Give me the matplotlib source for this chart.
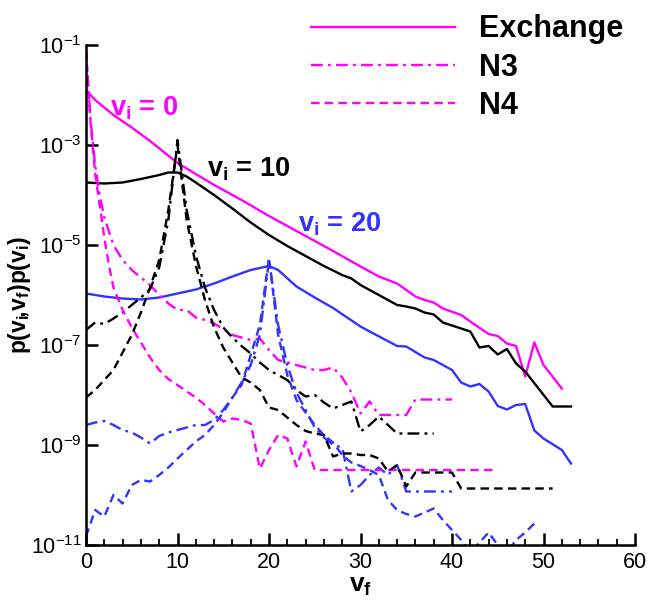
import matplotlib
matplotlib.use("Agg")
import matplotlib.pyplot as plt
import numpy as np
from matplotlib.ticker import MultipleLocator, NullLocator

plt.rcParams['font.family'] = 'Liberation Sans'
plt.rcParams['mathtext.fontset'] = 'custom'
plt.rcParams['mathtext.rm'] = 'Liberation Sans'
plt.rcParams['mathtext.it'] = 'Liberation Sans:italic'
plt.rcParams['mathtext.bf'] = 'Liberation Sans:bold'
plt.rcParams['mathtext.default'] = 'regular'

# values, stored as log10(p)
# exchange model, v_i = 0 / 10 / 20
ex0_v = [0, 1, 2, 3, 5, 7, 10, 12, 14, 17, 20, 22, 24, 25, 27, 30, 32, 34, 36, 37, 38, 39,
         41, 42, 44, 45, 46, 47, 48, 49, 50, 52]
ex0_lg = [-1.9, -2.1, -2.25, -2.4, -2.65, -2.92, -3.36, -3.58, -3.8, -4.1, -4.42, -4.62, -4.82,
          -4.92, -5.12, -5.43, -5.63, -5.77, -6.03, -6.1, -6.15, -6.27, -6.4, -6.53, -6.78,
          -6.82, -6.97, -7.02, -7.63, -6.95, -7.4, -7.87]

ex10_v = [0, 2, 4, 6, 8, 9, 10, 11, 12, 14, 16, 18, 20, 22, 24, 26, 28, 29, 30, 32, 34, 35, 36,
          37, 38, 39, 40, 41, 42, 43, 44, 45, 46, 47, 48, 51, 53]
ex10_lg = [-3.75, -3.77, -3.75, -3.68, -3.6, -3.55, -3.55, -3.63, -3.75, -4.0, -4.27, -4.55,
           -4.8, -5.02, -5.22, -5.42, -5.6, -5.67, -5.8, -6.0, -6.2, -6.23, -6.27, -6.35, -6.39,
           -6.55, -6.61, -6.67, -6.73, -7.05, -7.02, -7.19, -7.08, -7.37, -7.53, -8.23, -8.23]

ex20_v = [0, 2, 4, 6, 8, 10, 12, 14, 16, 18, 20, 21, 23, 25, 27, 30, 31, 34, 35, 37, 38, 40, 41,
          42, 43, 44, 45, 46, 47, 48, 49, 50, 52, 53]
ex20_lg = [-5.97, -6.03, -6.07, -6.09, -6.05, -5.97, -5.89, -5.77, -5.63, -5.5, -5.42, -5.5,
           -5.83, -6.05, -6.26, -6.63, -6.73, -7.02, -7.03, -7.25, -7.3, -7.5, -7.75, -7.83,
           -7.78, -7.93, -8.22, -8.29, -8.2, -8.18, -8.71, -8.87, -9.1, -9.37]

# N3 model
n3_0_v = [0, 0.5, 1, 1.5, 2, 3, 4, 5, 6, 7, 8, 9, 10, 11, 12, 13, 14, 15, 16, 17, 18, 19, 20,
          21, 22, 23, 24, 25, 26, 27, 28, 29, 30, 31, 32, 33, 34, 35, 36, 40]
n3_0_lg = [-1.1, -2.5, -3.4, -4.0, -4.45, -5.0, -5.3, -5.5, -5.65, -5.8, -6.0, -6.17, -6.3,
           -6.3, -6.45, -6.5, -6.57, -6.68, -6.8, -6.85, -6.9, -6.87, -7.1, -7.3, -7.35, -7.4,
           -7.45, -7.5, -7.5, -7.45, -7.65, -7.95, -8.37, -8.13, -8.4, -8.4, -8.4, -8.4, -8.09,
           -8.09]

n3_10_v = list(range(0, 35)) + [38]
n3_10_lg = [-6.7, -6.55, -6.58, -6.47, -6.35, -6.2, -6.05, -5.88, -5.45, -4.5, -2.9, -4.3,
            -5.2, -5.85, -6.3, -6.65, -6.85, -7.02, -7.17, -7.35, -7.5, -7.6, -7.7, -7.9, -8.03,
            -8.0, -8.15, -8.27, -8.2, -8.13, -8.73, -8.6, -8.43, -8.6, -8.77, -8.77]

n3_20_v = list(range(0, 36)) + [40]
n3_20_lg = [-8.6, -8.55, -8.52, -8.6, -8.7, -8.75, -8.85, -8.97, -8.82, -8.75, -8.7, -8.65,
            -8.6, -8.6, -8.5, -8.3, -8.05, -7.75, -7.4, -6.8, -5.3, -6.6, -7.4, -7.95, -8.3,
            -8.65, -8.85, -9.0, -9.05, -9.93, -9.8, -9.6, -9.45, -9.6, -9.4, -9.93, -9.93]

# N4 model
n4_0_v = [0, 0.5, 1, 1.5, 2, 2.5, 3, 4, 5, 6, 7, 8, 9, 10, 11, 12, 13, 14, 15, 16, 17, 18, 19,
          20, 21, 22, 23, 24, 25, 45]
n4_0_lg = [-1.1, -2.57, -3.57, -4.2, -4.85, -5.4, -5.85, -6.3, -6.65, -6.95, -7.25, -7.5,
           -7.68, -7.8, -7.93, -8.05, -8.2, -8.37, -8.53, -8.47, -8.5, -8.57, -9.47, -9.1,
           -8.8, -8.87, -9.43, -8.93, -9.5, -9.5]

n4_10_v = list(range(0, 37)) + [40, 41, 51]
n4_10_lg = [-8.05, -7.9, -7.7, -7.5, -7.15, -6.8, -6.35, -5.85, -5.3, -4.3, -3.0, -4.5, -5.4,
            -6.1, -6.65, -7.05, -7.35, -7.65, -7.75, -7.9, -8.25, -8.3, -8.45, -8.6, -8.72,
            -8.77, -8.8, -9.23, -9.17, -9.17, -9.2, -9.2, -9.27, -9.53, -9.4, -9.83, -9.55,
            -9.55, -9.87, -9.87]

n4_20_v = list(range(0, 50))
n4_20_lg = [-10.83, -10.3, -10.43, -10.0, -10.17, -9.8, -9.7, -9.73, -9.6, -9.45, -9.27, -9.1,
            -8.93, -8.8, -8.6, -8.35, -8.05, -7.8, -7.2, -6.6, -5.25, -6.8, -7.6, -8.1, -8.35,
            -8.6, -8.8, -8.95, -9.2, -9.35, -9.42, -9.5, -9.6, -10.1, -10.3, -10.38, -10.43,
            -10.35, -10.27, -10.5, -10.7, -10.9, -11.15, -10.95, -10.75, -11.0, -11.15, -10.9,
            -10.75, -10.57]

magenta = '#ff00ff'
black = '#000000'
blue = '#3333ff'
lw = 1.7
dashdot = (0, (5.0, 2.2, 1.2, 2.2))
dashed = (0, (3.6, 2.2))

fig = plt.figure(figsize=(6.48, 6.03), dpi=100)
ax = fig.add_axes([86 / 648, 58 / 603, 549 / 648, 500 / 603])

def p(lg):
    return 10.0 ** np.array(lg)

l_ex, = ax.plot(ex0_v, p(ex0_lg), color=magenta, lw=lw)
ax.plot(ex10_v, p(ex10_lg), color=black, lw=lw)
ax.plot(ex20_v, p(ex20_lg), color=blue, lw=lw)

l_n3, = ax.plot(n3_0_v, p(n3_0_lg), color=magenta, lw=lw, linestyle=dashdot)
ax.plot(n3_10_v, p(n3_10_lg), color=black, lw=lw, linestyle=dashdot)
ax.plot(n3_20_v, p(n3_20_lg), color=blue, lw=lw, linestyle=dashdot)

l_n4, = ax.plot(n4_0_v, p(n4_0_lg), color=magenta, lw=lw, linestyle=dashed)
ax.plot(n4_10_v, p(n4_10_lg), color=black, lw=lw, linestyle=dashed)
ax.plot(n4_20_v, p(n4_20_lg), color=blue, lw=lw, linestyle=dashed)

ax.set_yscale('log')
ax.set_xlim(0, 60)
ax.set_ylim(1e-11, 1e-1)
ax.set_yticks([1e-1, 1e-3, 1e-5, 1e-7, 1e-9, 1e-11])
ax.yaxis.set_minor_locator(NullLocator())
ax.xaxis.set_major_locator(MultipleLocator(10))
ax.xaxis.set_minor_locator(MultipleLocator(2))

for s in ['top', 'right']:
    ax.spines[s].set_visible(False)
for s in ['left', 'bottom']:
    ax.spines[s].set_linewidth(1.8)

ax.tick_params(which='major', direction='in', length=8.5, width=1.8, labelsize=15.5)
ax.tick_params(which='minor', direction='in', length=4.3, width=1.3)
ax.tick_params(axis='x', pad=5)
ax.tick_params(axis='y', pad=3)

ax.set_xlabel(r'$\mathbf{v_f}$', fontsize=19, labelpad=1)
ax.set_ylabel(r'$\mathbf{p(v_i\!,\!v_f)p(v_i)}$', fontsize=16.5)
ax.yaxis.set_label_coords(-0.097, 0.5)

ax.text(2.6, 10 ** -2.4, r'$\mathbf{v_i}$ = 0', color=magenta, fontsize=19.5,
        fontweight='bold', va='baseline')
ax.text(13.2, 10 ** -3.63, r'$\mathbf{v_i}$ = 10', color=black, fontsize=19.5,
        fontweight='bold', va='baseline')
ax.text(23.2, 10 ** -4.73, r'$\mathbf{v_i}$ = 20', color=blue, fontsize=19.5,
        fontweight='bold', va='baseline')

ax.legend([l_ex, l_n3, l_n4], ['Exchange', 'N3', 'N4'], loc='upper left',
          bbox_to_anchor=(0.41, 1.061), frameon=False, handlelength=4.7,
          handletextpad=0.8, labelspacing=0.27, borderpad=0, borderaxespad=0,
          prop={'family': 'Liberation Sans', 'weight': 'bold', 'size': 22})

fig.savefig('out.png', dpi=100)
